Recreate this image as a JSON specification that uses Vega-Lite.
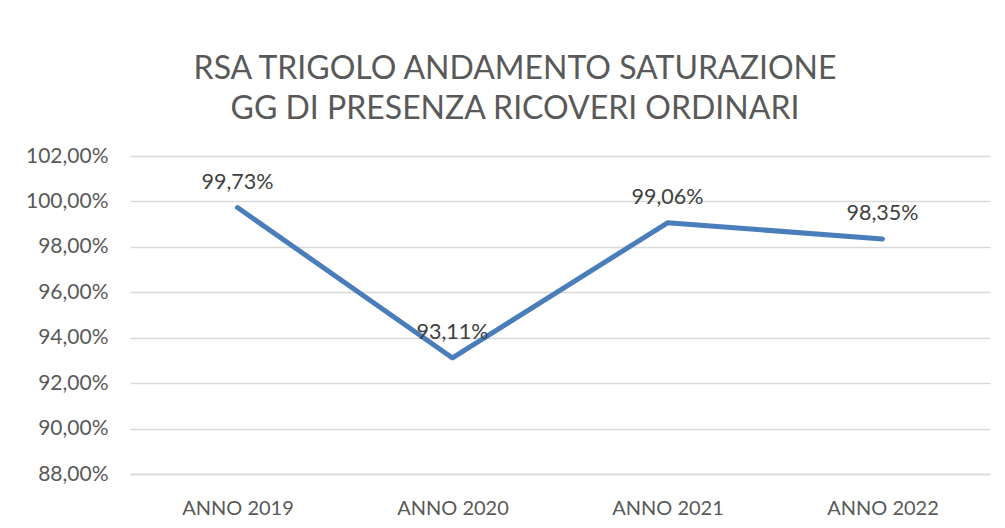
{
  "$schema": "https://vega.github.io/schema/vega-lite/v6.json",
  "width": 860,
  "height": 318,
  "autosize": "none",
  "padding": {"left": 130, "top": 156, "right": 15, "bottom": 54},
  "background": "white",
  "title": {
    "text": ["RSA TRIGOLO ANDAMENTO SATURAZIONE", "GG DI PRESENZA RICOVERI ORDINARI"],
    "font": "Lato",
    "fontSize": 32,
    "fontWeight": "normal",
    "color": "#595959",
    "lineHeight": 40,
    "baseline": "alphabetic",
    "offset": 38,
    "dy": 44,
    "dx": -45,
    "anchor": "middle"
  },
  "data": {
    "values": [
      {"anno": "ANNO 2019", "valore": 0.9973},
      {"anno": "ANNO 2020", "valore": 0.9311},
      {"anno": "ANNO 2021", "valore": 0.9906},
      {"anno": "ANNO 2022", "valore": 0.9835}
    ]
  },
  "encoding": {
    "x": {
      "field": "anno",
      "type": "nominal",
      "sort": null,
      "title": null,
      "scale": {"paddingInner": 0, "paddingOuter": 0},
      "axis": {
        "labelAngle": 0,
        "labelFont": "Lato",
        "labelFontSize": 20,
        "labelColor": "#595959",
        "labelPadding": 24,
        "ticks": false,
        "domainColor": "#d9d9d9",
        "domainWidth": 1.5,
        "grid": false
      }
    },
    "y": {
      "field": "valore",
      "type": "quantitative",
      "title": null,
      "scale": {"domain": [0.88, 1.02], "nice": false, "zero": false},
      "axis": {
        "values": [0.88, 0.90, 0.92, 0.94, 0.96, 0.98, 1.00, 1.02],
        "format": ".2%",
        "labelFont": "Lato",
        "labelFontSize": 21,
        "labelColor": "#595959",
        "labelPadding": 22,
        "ticks": false,
        "domain": false,
        "gridColor": "#d9d9d9",
        "gridWidth": 1.5
      }
    }
  },
  "layer": [
    {
      "mark": {"type": "line", "color": "#4a7ebb", "strokeWidth": 5, "strokeCap": "round", "strokeJoin": "round"}
    },
    {
      "mark": {"type": "text", "font": "Lato", "fontSize": 21.5, "color": "#404040", "dy": -25, "baseline": "middle"},
      "encoding": {
        "text": {"field": "valore", "type": "quantitative", "format": ".2%"}
      }
    }
  ],
  "config": {
    "locale": {
      "number": {"decimal": ",", "thousands": ".", "grouping": [3], "currency": ["€", ""]}
    },
    "view": {"stroke": null}
  }
}
